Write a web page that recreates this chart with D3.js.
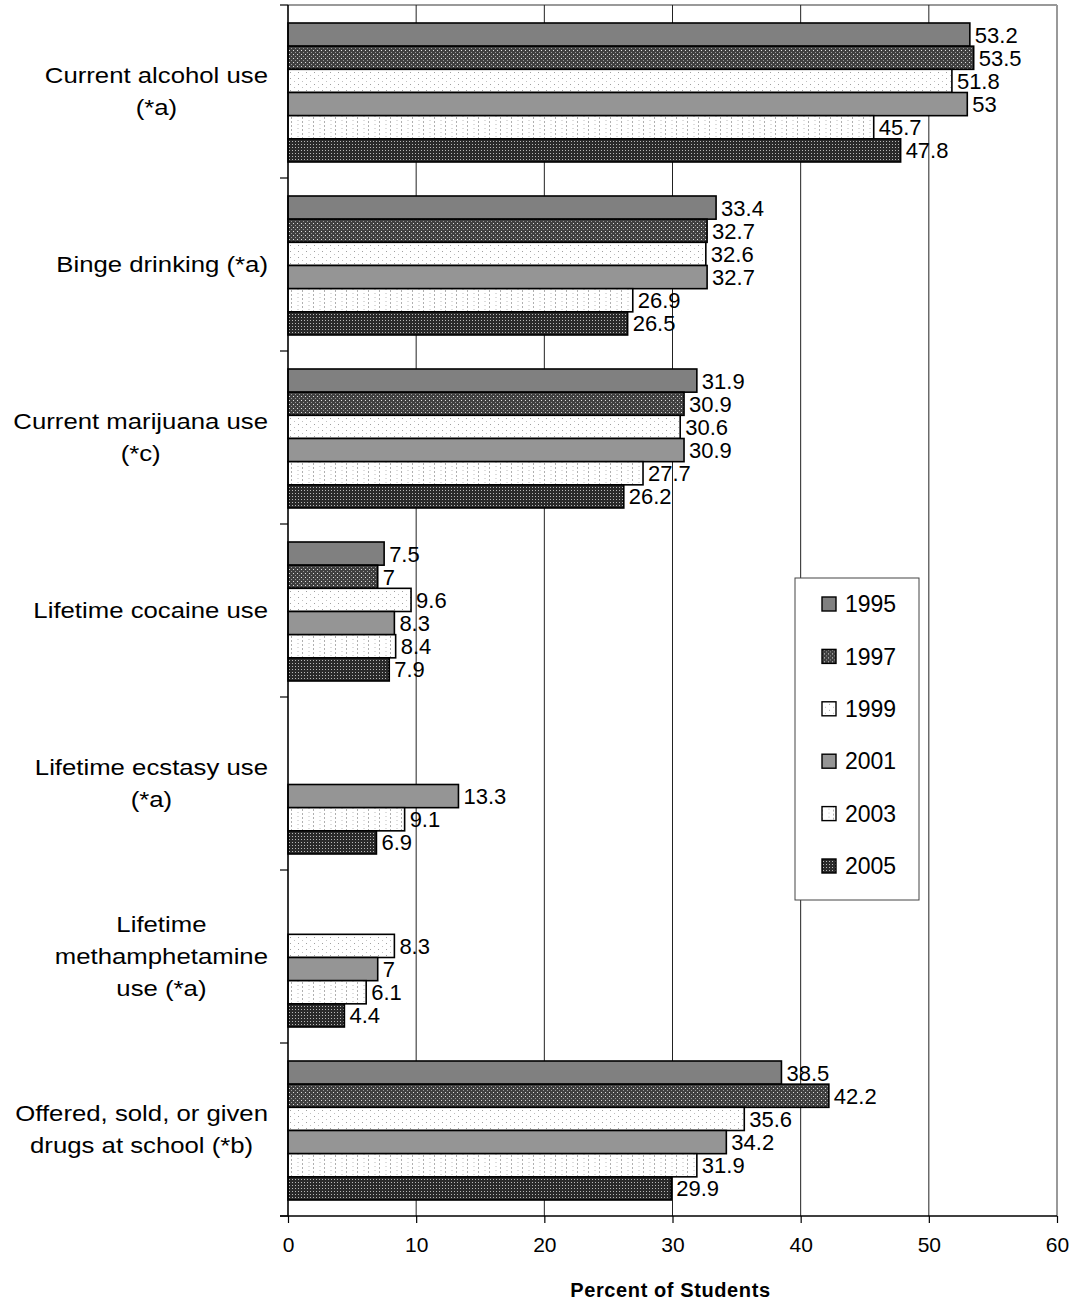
<!DOCTYPE html>
<html>
<head>
<meta charset="utf-8">
<script src="https://cdn.jsdelivr.net/npm/d3@7"></script>
<style>
  body { margin: 0; background: #fff; }
  svg { display: block; font-family: Arial, "Liberation Sans", sans-serif; }
</style>
</head>
<body>
<div id="chart"></div>
<script>
'use strict';

// data
var years = ['1995', '1997', '1999', '2001', '2003', '2005'];
var categories = [
  ['Current alcohol use', '(*a)'],
  ['Binge drinking (*a)'],
  ['Current marijuana use', '(*c)'],
  ['Lifetime cocaine use'],
  ['Lifetime ecstasy use', '(*a)'],
  ['Lifetime', 'methamphetamine', 'use (*a)'],
  ['Offered, sold, or given', 'drugs at school (*b)']
];
var alcohol   = [53.2, 53.5, 51.8, 53, 45.7, 47.8];
var binge     = [33.4, 32.7, 32.6, 32.7, 26.9, 26.5];
var marijuana = [31.9, 30.9, 30.6, 30.9, 27.7, 26.2];
var cocaine   = [7.5, 7, 9.6, 8.3, 8.4, 7.9];
var ecstasy   = [null, null, null, 13.3, 9.1, 6.9];
var meth      = [null, null, 8.3, 7, 6.1, 4.4];
var offered   = [38.5, 42.2, 35.6, 34.2, 31.9, 29.9];
var xTicks    = [0, 10, 20, 30, 40, 50, 60];

var series = [alcohol, binge, marijuana, cocaine, ecstasy, meth, offered];

var W = 1073, H = 1301;
var plot = {left: 288, right: 1057, top: 5, bottom: 1216};

var svg = d3.select('#chart').append('svg')
  .attr('width', W).attr('height', H);

// fill patterns, one per year
var defs = svg.append('defs');
function pattern(id, w, h, bg, dots){
  var p = defs.append('pattern').attr('id', id)
    .attr('patternUnits', 'userSpaceOnUse')
    .attr('width', w).attr('height', h);
  p.append('rect').attr('width', w).attr('height', h).attr('fill', bg);
  dots.forEach(function(d){
    p.append('rect').attr('x', d[0]).attr('y', d[1])
      .attr('width', d[2]).attr('height', d[3]).attr('fill', d[4]);
  });
}
pattern('p1997', 4, 4, '#404040', [[1, 1, 1, 1, '#e0e0e0'], [3, 3, 1, 1, '#9a9a9a']]);
pattern('p1999', 8, 6, '#ffffff', [[2, 1, 1, 1, '#a0a0a0'], [6, 4, 1, 1, '#c0c0c0']]);
pattern('p2003', 11, 4, '#ffffff', [[5, 0, 1, 2, '#b0b0b0'], [0, 3, 2, 1, '#dddddd']]);
pattern('p2005', 3, 3, '#2a2a2a', [[1, 1, 1, 1, '#b8b8b8']]);

var fills = ['#808080', 'url(#p1997)', 'url(#p1999)', '#959595', 'url(#p2003)', 'url(#p2005)'];

var x = d3.scaleLinear().domain([0, 60]).range([plot.left, plot.right]);
var y = d3.scaleBand().domain(d3.range(categories.length))
  .range([plot.top, plot.bottom]).padding(0);
var yInner = d3.scaleBand().domain(years)
  .range([18, y.bandwidth() - 16]).padding(0);

// plot frame and grid
svg.append('line')
  .attr('x1', plot.left).attr('x2', plot.right)
  .attr('y1', plot.top).attr('y2', plot.top)
  .attr('stroke', '#999').attr('stroke-width', 2);

svg.append('g').selectAll('line')
  .data(xTicks.slice(1))
  .enter().append('line')
    .attr('x1', d => x(d)).attr('x2', d => x(d))
    .attr('y1', plot.top).attr('y2', plot.bottom)
    .attr('stroke', d => d === 60 ? '#999' : '#222')
    .attr('stroke-width', d => d === 60 ? 2 : 1);

// bars
var groups = svg.append('g').selectAll('g')
  .data(series)
  .enter().append('g')
    .attr('transform', (d, i) => 'translate(0,' + y(i) + ')');

groups.each(function(vals){
  var g = d3.select(this);
  var rows = vals.map((v, j) => ({year: years[j], value: v, j: j}))
    .filter(d => d.value !== null);

  g.selectAll('rect').data(rows)
    .enter().append('rect')
      .attr('x', x(0))
      .attr('y', d => yInner(d.year))
      .attr('width', d => x(d.value) - x(0))
      .attr('height', yInner.bandwidth())
      .attr('fill', d => fills[d.j])
      .attr('stroke', '#000')
      .attr('stroke-width', 1.6);

  g.selectAll('text').data(rows)
    .enter().append('text')
      .attr('x', d => x(d.value) + 5)
      .attr('y', d => yInner(d.year) + yInner.bandwidth() / 2)
      .attr('dy', '0.36em')
      .style('font-size', '22px')
      .text(d => String(d.value));
});

// axes
var xAxis = d3.axisBottom(x).tickValues(xTicks).tickSize(7).tickPadding(14);
var gx = svg.append('g')
  .attr('transform', 'translate(0,' + plot.bottom + ')')
  .call(xAxis);
gx.select('.domain').attr('stroke-width', 1.6).attr('d', 'M' + (plot.left - 8) + ',0H' + plot.right);
gx.selectAll('.tick line').attr('stroke-width', 1.2);
gx.selectAll('.tick text')
  .style('font-size', '21px')
  .style('font-family', 'Arial, "Liberation Sans", sans-serif');

var gy = svg.append('g');
gy.append('line')
  .attr('x1', plot.left).attr('x2', plot.left)
  .attr('y1', plot.top).attr('y2', plot.bottom)
  .attr('stroke', '#000').attr('stroke-width', 1.6);
gy.selectAll('.ytick')
  .data(d3.range(categories.length + 1))
  .enter().append('line')
    .attr('class', 'ytick')
    .attr('x1', plot.left - 8).attr('x2', plot.left)
    .attr('y1', d => plot.top + d * y.bandwidth())
    .attr('y2', d => plot.top + d * y.bandwidth())
    .attr('stroke', '#000').attr('stroke-width', 1.2);

// category labels: lines centred, block right-aligned
var stretch = 1.17, labelRight = 268, lineH = 32;
categories.forEach(function(lines, i){
  var cy = y(i) + y.bandwidth() / 2;
  var g = svg.append('g');
  var texts = lines.map(function(s, k){
    return g.append('text')
      .style('font-size', '22px')
      .attr('text-anchor', 'middle')
      .attr('dy', '0.36em')
      .text(s);
  });
  var maxW = d3.max(texts, t => t.node().getComputedTextLength()) * stretch;
  var cx = labelRight - maxW / 2;
  texts.forEach(function(t, k){
    var ly = cy + (k - (lines.length - 1) / 2) * lineH;
    t.attr('transform', 'translate(' + cx + ',' + ly + ') scale(' + stretch + ',1)');
  });
});

// legend
var legend = svg.append('g').attr('transform', 'translate(795,578)');
legend.append('rect')
  .attr('width', 124).attr('height', 322)
  .attr('fill', '#fff').attr('stroke', '#444').attr('stroke-width', 1);
var items = legend.selectAll('.item')
  .data(years)
  .enter().append('g')
    .attr('class', 'item')
    .attr('transform', (d, i) => 'translate(0,' + (26 + i * 52.4) + ')');
items.append('rect')
  .attr('x', 27).attr('y', -7).attr('width', 14).attr('height', 14)
  .attr('fill', (d, i) => fills[i])
  .attr('stroke', '#000').attr('stroke-width', 1.4);
items.append('text')
  .attr('x', 50).attr('dy', '0.36em')
  .style('font-size', '23px')
  .text(d => d);

// axis title
svg.append('text')
  .attr('x', (plot.left + plot.right) / 2 - 2)
  .attr('y', 1297)
  .attr('text-anchor', 'middle')
  .style('font-size', '20px')
  .style('font-weight', 'bold')
  .style('letter-spacing', '0.6px')
  .text('Percent of Students');
</script>
</body>
</html>
